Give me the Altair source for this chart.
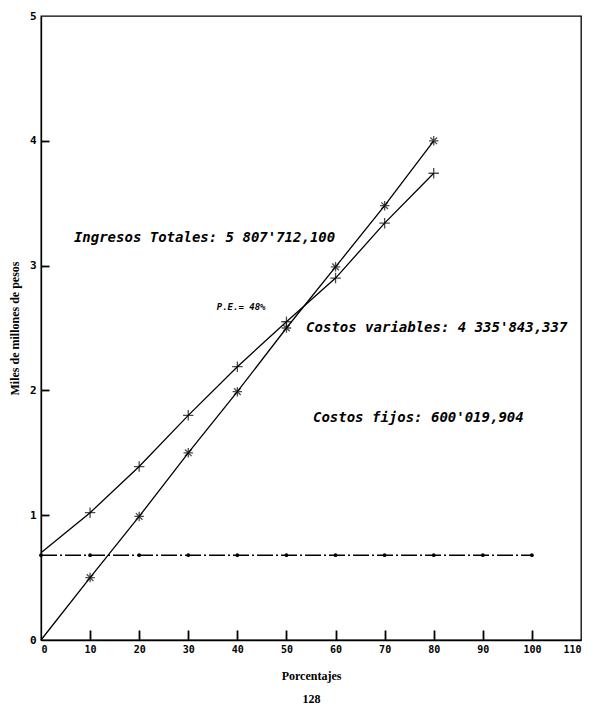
import altair as alt
import pandas as pd

# ---- data ----
pct = [0, 10, 20, 30, 40, 50, 60, 70, 80]
ingresos = [0.0, 0.50, 0.99, 1.50, 1.99, 2.50, 2.99, 3.48, 4.00]
costo_total = [0.70, 1.02, 1.39, 1.80, 2.19, 2.55, 2.90, 3.34, 3.74]
pct_fijos = [0, 10, 20, 30, 40, 50, 60, 70, 80, 90, 100]
fijos = [0.68] * len(pct_fijos)

x_ticks = [10, 20, 30, 40, 50, 60, 70, 80, 90, 100]
y_ticks = [1, 2, 3, 4]

ann_text = ["Ingresos Totales: 5 807'712,100", "P.E.= 48%",
            "Costos variables: 4 335'843,337", "Costos fijos: 600'019,904"]
ann_x = [6.7, 35.8, 54.0, 55.4]
ann_y = [3.22, 2.67, 2.50, 1.78]
ann_size = [14, 9, 14, 14]

df_ing = pd.DataFrame({"x": pct, "y": ingresos})
df_ct = pd.DataFrame({"x": pct, "y": costo_total})
df_fij = pd.DataFrame({"x": pct_fijos, "y": fijos})
df_ann = pd.DataFrame({"x": ann_x, "y": ann_y, "t": ann_text, "s": ann_size})

W, H = 540, 624
xs = alt.Scale(domain=[0, 110], nice=False, zero=False)
ys = alt.Scale(domain=[0, 5], nice=False, zero=False)

X = alt.X("x:Q", scale=xs, axis=alt.Axis(
    orient="bottom", values=list(range(0, 111, 10)), ticks=False, grid=False, format="d",
    labelFont="DejaVu Sans Mono", labelFontWeight="bold", labelFontSize=10,
    labelColor="black", labelPadding=4, domainColor="black", domainWidth=1.3,
    title=["Porcentajes", "128"], titleFont="Liberation Serif", titleFontSize=12,
    titleFontWeight="bold", titleColor="black", titlePadding=16, titleLineHeight=23))
Y = alt.Y("y:Q", scale=ys, axis=alt.Axis(
    orient="left", values=[0, 1, 2, 3, 4, 5], ticks=False, grid=False, format="d",
    labelFont="DejaVu Sans Mono", labelFontWeight="bold", labelFontSize=11,
    labelColor="black", labelPadding=5, domainColor="black", domainWidth=1.3,
    title="Miles de millones de pesos", titleFont="Liberation Serif", titleFontSize=12,
    titleFontWeight="bold", titleColor="black", titlePadding=8))

# inward ticks: a top axis moved down onto the bottom edge, a right axis moved onto the left edge
XT = alt.X("x:Q", axis=alt.Axis(
    orient="top", offset=-H, values=x_ticks, labels=False, domain=False, grid=False,
    ticks=True, tickSize=10, tickWidth=1.8, tickColor="black", title=None))
YT = alt.Y("y:Q", axis=alt.Axis(
    orient="right", offset=-W, values=y_ticks, labels=False, domain=False, grid=False,
    ticks=True, tickSize=8, tickWidth=1.8, tickColor="black", title=None))

XN = alt.X("x:Q", axis=None)
YN = alt.Y("y:Q", axis=None)

plus = "M-1,0L1,0M0,-1L0,1"
star = "M-1,0L1,0M0,-1L0,1M-0.7,-0.7L0.7,0.7M-0.7,0.7L0.7,-0.7"

line_ing = alt.Chart(df_ing).mark_line(color="black", strokeWidth=1.3).encode(x=X, y=Y)
line_ct = alt.Chart(df_ct).mark_line(color="black", strokeWidth=1.3).encode(x=XT, y=YT)
pts_ing = alt.Chart(df_ing[df_ing.x > 0]).mark_point(
    shape=star, size=90, stroke="black", strokeWidth=1.3, filled=False).encode(x=XN, y=YN)
pts_ct = alt.Chart(df_ct[df_ct.x > 0]).mark_point(
    shape=plus, size=110, stroke="black", strokeWidth=1.3, filled=False).encode(x=XN, y=YN)
line_fij = alt.Chart(df_fij).mark_line(color="black", strokeWidth=1.5,
                                       strokeDash=[16, 3, 2, 3]).encode(x=XN, y=YN)
pts_fij = alt.Chart(df_fij).mark_circle(size=14, color="black", opacity=1).encode(x=XN, y=YN)
ann = alt.Chart(df_ann).mark_text(
    align="left", baseline="middle", font="DejaVu Sans Mono", fontStyle="italic",
    fontWeight="bold", color="black").encode(
    x=XN, y=YN, text="t:N", size=alt.Size("s:Q", scale=None, legend=None))

chart = alt.layer(line_ing, line_ct, line_fij, pts_fij, pts_ing, pts_ct, ann).resolve_axis(
    x="independent", y="independent"
).properties(
    width=W, height=H,
    autosize=alt.AutoSizeParams(type="none"),
    padding={"left": 33, "top": 8, "right": 8, "bottom": 64},
    background="white",
).configure_view(stroke="black", strokeWidth=1.3)

chart.save("out.html", embed_options={"renderer": "svg", "actions": False})
